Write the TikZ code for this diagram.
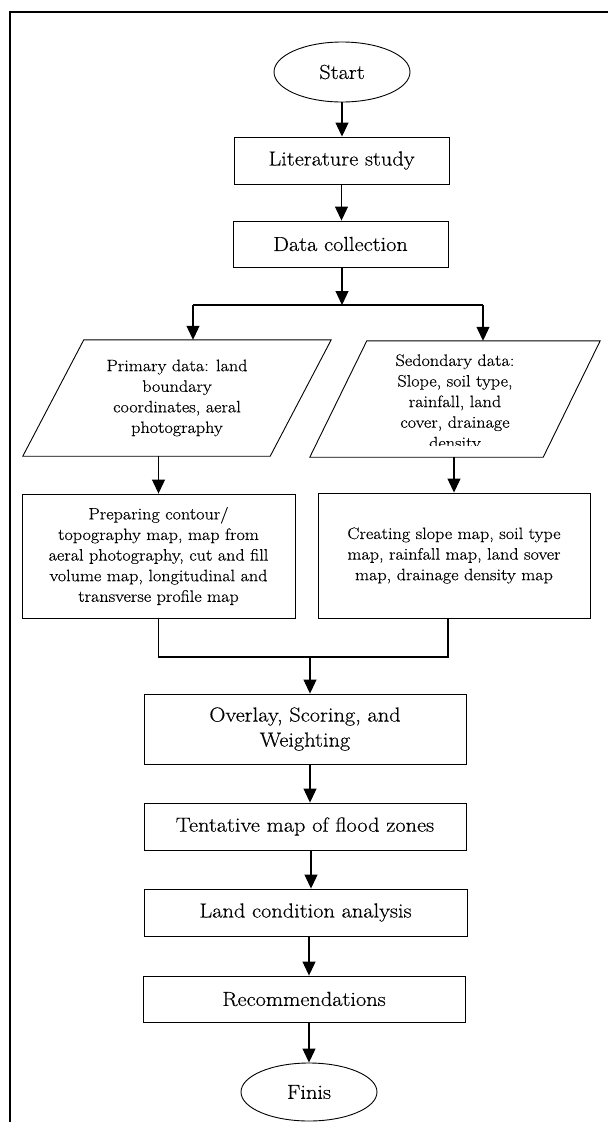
\documentclass[tikz,border=0pt]{standalone}
\usepackage{fontspec}
\setmainfont{Latin Modern Roman}[FakeStretch=1.1, FakeBold=0.4]
\usetikzlibrary{shapes.geometric,arrows.meta}
\newcommand\bigtxt{\fontsize{20.3}{25}\selectfont}
\newcommand\smalltxt{\fontsize{16.5}{20.6}\selectfont}
\begin{document}
\begin{tikzpicture}[x=1pt,y=-1pt,
  term/.style={ellipse, draw, line width=0.9pt, inner sep=0pt, font=\bigtxt},
  proc/.style={rectangle, draw, line width=0.9pt, inner sep=0pt, align=center, font=\bigtxt},
  procs/.style={rectangle, draw, line width=0.9pt, inner sep=0pt, align=center, font=\smalltxt},
  pbody/.style={rectangle, inner sep=0pt, align=center, font=\smalltxt},
  outline/.style={line width=0.9pt, line join=miter},
  stxt/.style={inner sep=0pt, align=center, font=\smalltxt},
  conn/.style={line width=1.1pt},
  arr/.style={line width=1.1pt, -{Triangle[width=13pt,length=14pt]}},
  frame/.style={line width=2pt}]
\useasboundingbox (0,0) rectangle (608,1122);
% frame
\draw[frame] (10,1122) -- (10,12) -- (608,12);
% nodes
\node[term, minimum width=136pt, minimum height=60pt] (start) at (342,72) {Start};
\node[proc, minimum width=215pt, minimum height=47pt] (lit) at (341.5,160.5) {Literature study};
\node[proc, minimum width=215pt, minimum height=46pt] (data) at (340.5,244) {Data collection};
\coordinate (bm) at (342,305);
\coordinate (bl) at (193,305);
\coordinate (br) at (483,305);
\node[pbody, minimum width=308pt, minimum height=116pt] (prim) at (177,398) {Primary data: land\\boundary\\coordinates, aeral\\photography};
\draw[outline] ([xshift=61pt]prim.north west) -- (prim.north east) -- ([xshift=-61pt]prim.south east) -- (prim.south west) -- cycle;
\node[pbody, minimum width=290pt, minimum height=116pt] (sec) at (455,399) {};
\draw[outline] ([xshift=57pt]sec.north west) -- (sec.north east) -- ([xshift=-57pt]sec.south east) -- (sec.south west) -- cycle;
\begin{scope}
\clip (300,330) rectangle (608,445.5);
\node[stxt] (sectxt) at (455,403) {Sedondary data:\\Slope, soil type,\\rainfall, land\\cover, drainage\\density};
\end{scope}
\node[procs, minimum width=273pt, minimum height=124pt] (lbox) at (158.5,556) {Preparing contour/\\topography map, map from\\aeral photography, cut and fill\\volume map, longitudinal and\\transverse profile map};
\node[procs, minimum width=272pt, minimum height=125pt] (rbox) at (454,555.5) {Creating slope map, soil type\\map, rainfall map, land sover\\map, drainage density map};
\coordinate (join) at (310,657);
\node[proc, minimum width=322pt, minimum height=70pt] (over) at (305,729) {Overlay, Scoring, and\\Weighting};
\node[proc, minimum width=322pt, minimum height=47pt] (tent) at (305,826.5) {Tentative map of flood zones};
\node[proc, minimum width=323pt, minimum height=47pt] (land) at (305.5,912.5) {Land condition analysis};
\node[proc, minimum width=322pt, minimum height=46pt] (rec) at (304,999) {Recommendations};
\node[term, minimum width=136pt, minimum height=58pt] (fin) at (309,1092) {Finis};
% connectors
\draw[arr] (start.south) -- (start.south |- lit.north);
\draw[arr] (lit.south) -- (lit.south |- data.north);
\draw[arr] (data.south -| bm) -- (bm);
\draw[conn] (bl) -- (br);
\draw[arr] (bl) -- (bl |- prim.north);
\draw[arr] (br) -- (br |- sec.north);
\draw[arr] (prim.south -| lbox.south) -- (lbox.north);
\draw[arr] (sec.south -| rbox.south) -- (rbox.north);
\draw[conn] (lbox.south) |- (join) -| ([xshift=-6pt]rbox.south);
\draw[arr] (join) -- (join |- over.north);
\draw[arr] ([xshift=5pt]over.south) -- ([xshift=5pt]over.south |- tent.north);
\draw[arr] ([xshift=6pt]tent.south) -- ([xshift=6pt]tent.south |- land.north);
\draw[arr] ([xshift=3.5pt]land.south) -- ([xshift=3.5pt]land.south |- rec.north);
\draw[arr] (rec.south -| fin.north) -- (fin.north);
\end{tikzpicture}
\end{document}
